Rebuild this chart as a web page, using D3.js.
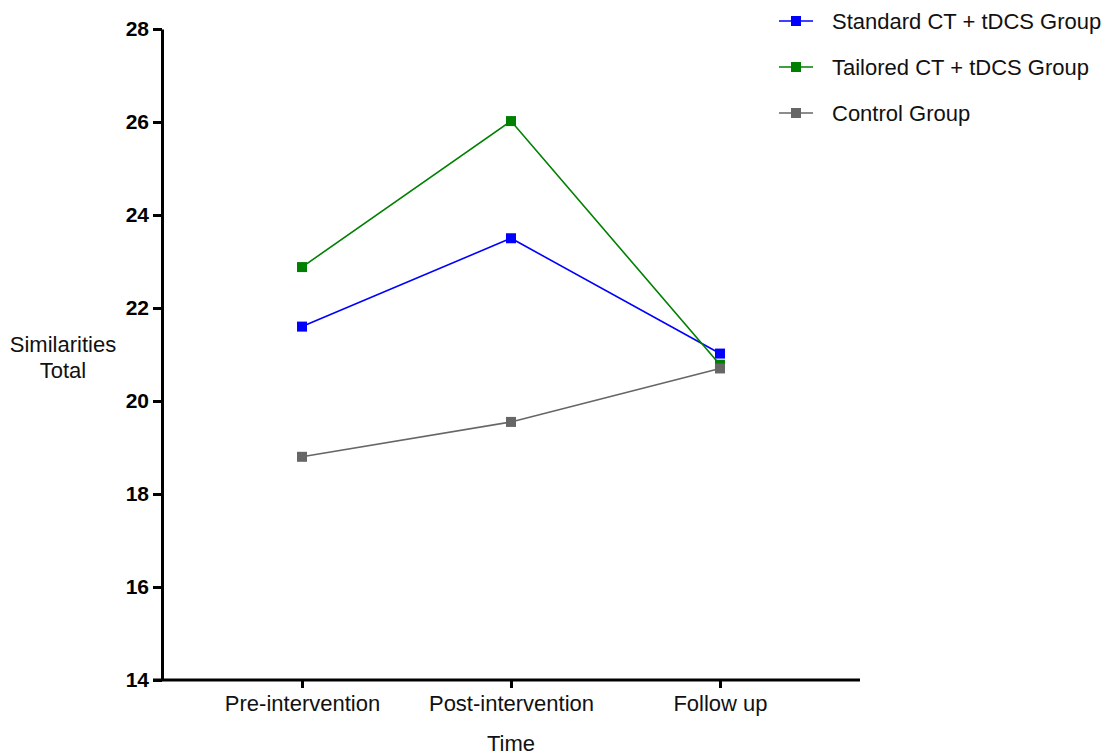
<!DOCTYPE html>
<html>
<head>
<meta charset="utf-8">
<script src="https://d3js.org/d3.v7.min.js"></script>
<style>
  body { margin: 0; background: #fff; }
  text { font-family: "Liberation Sans", Arial, sans-serif; }
</style>
</head>
<body>
<svg id="chart" width="1116" height="754"></svg>
<script>
// data
var timepoints = ["Pre-intervention", "Post-intervention", "Follow up"];
var seriesNames = ["Standard CT + tDCS Group", "Tailored CT + tDCS Group", "Control Group"];
var seriesColors = ["#0000ff", "#008000", "#666666"];
var standardVals = [21.6, 23.5, 21.02];
var tailoredVals = [22.88, 26.02, 20.78];
var controlVals = [18.8, 19.55, 20.7];
var yTicks = [14, 16, 18, 20, 22, 24, 26, 28];

var allSeries = [standardVals, tailoredVals, controlVals];

var svg = d3.select("#chart");
// plot edges (note: "top" is taken by window.top, so use other names)
var plotLeft = 162, plotRight = 860, plotTop = 29, plotBottom = 680;

var x = d3.scalePoint().domain(timepoints).range([plotLeft, plotRight]).padding(0.67);
var y = d3.scaleLinear().domain([14, 28]).range([plotBottom, plotTop]);

// y axis
var yAxis = svg.append("g")
  .attr("transform", "translate(" + plotLeft + ",0)")
  .call(d3.axisLeft(y).tickValues(yTicks).tickSize(9).tickPadding(4).tickSizeOuter(0));
yAxis.select(".domain").attr("stroke", "#000").attr("stroke-width", 3);
yAxis.selectAll(".tick line").attr("stroke", "#000").attr("stroke-width", 3);
yAxis.selectAll(".tick text")
  .style("font-family", "'Liberation Sans', Arial, sans-serif")
  .style("font-size", "21px").style("font-weight", "bold").attr("fill", "#000");

// x axis (extends slightly left of the y axis)
var xAxis = svg.append("g")
  .attr("transform", "translate(0," + plotBottom + ")")
  .call(d3.axisBottom(x).tickSize(8).tickPadding(7).tickSizeOuter(0));
xAxis.select(".domain").attr("d", "M" + (plotLeft - 9) + ",0H" + plotRight)
  .attr("stroke", "#000").attr("stroke-width", 3);
xAxis.selectAll(".tick line").attr("stroke", "#000").attr("stroke-width", 3);
xAxis.selectAll(".tick text")
  .style("font-family", "'Liberation Sans', Arial, sans-serif")
  .style("font-size", "22px").attr("fill", "#111");

// axis titles
var yt = svg.append("text").attr("text-anchor", "middle")
  .style("font-size", "22px").attr("fill", "#111");
yt.append("tspan").attr("x", 63).attr("y", 352).text("Similarities");
yt.append("tspan").attr("x", 63).attr("y", 378).text("Total");

svg.append("text").attr("x", x("Post-intervention")).attr("y", 751)
  .attr("text-anchor", "middle").style("font-size", "22px").attr("fill", "#111")
  .text("Time");

// lines and markers
var line = d3.line().x(function (d, i) { return x(timepoints[i]); }).y(function (d) { return y(d); });

allSeries.forEach(function (vals, s) {
  svg.append("path").datum(vals)
    .attr("d", line)
    .attr("fill", "none")
    .attr("stroke", seriesColors[s])
    .attr("stroke-width", 1.6);
  svg.selectAll(".m" + s).data(vals).enter().append("rect")
    .attr("class", "m" + s)
    .attr("x", function (d, i) { return x(timepoints[i]) - 5; })
    .attr("y", function (d) { return y(d) - 5; })
    .attr("width", 10).attr("height", 10)
    .attr("fill", seriesColors[s]);
});

// legend
var legend = svg.append("g");
seriesNames.forEach(function (name, i) {
  var ly = 21 + i * 46;
  legend.append("line").attr("x1", 779).attr("x2", 813).attr("y1", ly).attr("y2", ly)
    .attr("stroke", seriesColors[i]).attr("stroke-width", 1.6);
  legend.append("rect").attr("x", 791).attr("y", ly - 5).attr("width", 10).attr("height", 10)
    .attr("fill", seriesColors[i]);
  legend.append("text").attr("x", 832).attr("y", ly + 8)
    .style("font-size", "22px").attr("fill", "#111").text(name);
});
</script>
</body>
</html>
